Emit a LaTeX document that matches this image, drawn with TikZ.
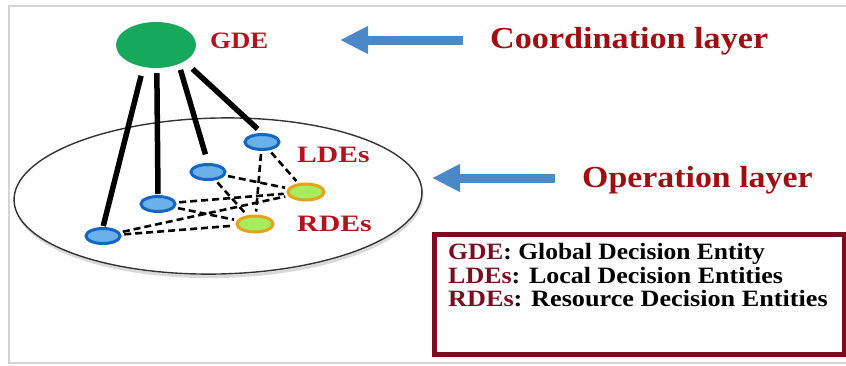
\documentclass[tikz,border=0pt]{standalone}
\usepackage{fontspec}
\usepackage{graphicx}
\setmainfont{Liberation Serif}
\usetikzlibrary{arrows.meta,shapes.geometric}

\definecolor{framegray}{HTML}{D4D4D4}
\definecolor{gdegreen}{HTML}{17A95B}
\definecolor{ldefill}{HTML}{6CB0EA}
\definecolor{ldeedge}{HTML}{1566C0}
\definecolor{rdefill}{HTML}{A6EC5E}
\definecolor{rdeedge}{HTML}{E6A21A}
\definecolor{labelred}{HTML}{B3141C}
\definecolor{headred}{HTML}{A10E12}
\definecolor{legendred}{HTML}{7B0D1E}
\definecolor{arrowblue}{HTML}{4B88C8}

% horizontal widening of a piece of text
\newcommand\hwide[2]{\scalebox{#1}[1]{#2}}

\begin{document}
\begin{tikzpicture}[x=1pt,y=-1pt,
  lde/.style={ellipse, draw=ldeedge, fill=ldefill, line width=3pt,
    minimum width=34pt, minimum height=15pt, inner sep=0pt},
  rde/.style={ellipse, draw=rdeedge, fill=rdefill, line width=3pt,
    minimum width=36pt, minimum height=16pt, inner sep=0pt},
  tie/.style={line width=5.5pt, black},
  link/.style={line width=2.6pt, black, dash pattern=on 7pt off 4pt,
    shorten <=3pt, shorten >=3pt},
  pointer/.style={line width=9pt, arrowblue,
    -{Triangle[length=28pt,width=26pt]}},
  lbl/.style={inner sep=0pt, anchor=base west, text=labelred,
    font=\fontsize{23.5}{28}\selectfont\bfseries},
  head/.style={inner sep=0pt, anchor=base west, text=headred,
    font=\fontsize{30.5}{36}\selectfont\bfseries},
  legendline/.style={inner sep=0pt, anchor=base west, text=black,
    font=\fontsize{23.4}{28}\selectfont\bfseries},
]
\useasboundingbox (0,0) rectangle (846,365);
\fill[white] (0,0) rectangle (846,365);
\draw[framegray, line width=2pt] (846,6) -- (9,6) -- (9,363) -- (846,363);

% operation layer plate with a soft shadow
\node[ellipse, draw=black!15, line width=3pt, minimum width=406pt,
  minimum height=156pt, rotate=1.2, inner sep=0pt] (layershadow) at (219,198.5) {};
\node[ellipse, draw=black!80, fill=white, line width=1.4pt, minimum width=408pt,
  minimum height=156pt, rotate=1.2, inner sep=0pt] (layer) at (218,196) {};

% global decision entity
\node[ellipse, fill=gdegreen, minimum width=80pt, minimum height=46pt,
  inner sep=0pt] (gde) at (156,45) {};

% local decision entities
\node[lde] (n1) at (262,142) {};
\node[lde] (n2) at (208,172) {};
\node[lde] (n3) at (158,204) {};
\node[lde] (n4) at (103,236) {};

% resource decision entities
\node[rde] (r1) at (306,192) {};
\node[rde] (r2) at (255,224) {};

% coordination links
\draw[tie, shorten <=9pt, shorten >=1pt] (gde.-120) -- (n4.north);
\draw[tie, shorten <=5pt, shorten >=1pt] (gde.-88) -- (n3.north);
\draw[tie, shorten <=6pt, shorten >=9pt] (gde.-40) -- (n2.north);
\draw[tie, shorten <=11pt, shorten >=6pt] (gde.-30) -- (n1.north);

% operation links
\foreach \l in {n1,n2,n3,n4}{
  \draw[link] (\l) -- (r1);
  \draw[link] (\l) -- (r2);
}

% labels
\node[lbl] (gdelbl) at (210,48) {\hwide{1.14}{GDE}};
\node[lbl] (ldelbl) at (297,162) {\hwide{1.26}{LDEs}};
\node[lbl] (rdelbl) at (297,231) {\hwide{1.27}{RDEs}};

\node[head] (coordtxt) at (490,48) {\hwide{1.12}{Coordination layer}};
\node[head] (opertxt) at (582,187) {\hwide{1.11}{Operation layer}};

\coordinate (cotail) at (463,40);
\coordinate (cotip) at (340,40);
\coordinate (optail) at (555,178);
\coordinate (optip) at (432,178);
\draw[pointer] (cotail) -- (cotip);
\draw[pointer] (optail) -- (optip);

% legend
\node[draw=legendred, fill=white, line width=5pt, minimum width=410pt,
  minimum height=120pt, anchor=north west, inner sep=0pt] (legend) at (432,232) {};
\node[legendline] (lg1) at (448,259)
  {\hwide{1.09}{\textcolor{legendred}{GDE}: Global Decision Entity}};
\node[legendline] (lg2) at (448,283)
  {\hwide{1.11}{\textcolor{legendred}{LDEs}: Local Decision Entities}};
\node[legendline] (lg3) at (448,306)
  {\hwide{1.12}{\textcolor{legendred}{RDEs}: Resource Decision Entities}};
\end{tikzpicture}
\end{document}
